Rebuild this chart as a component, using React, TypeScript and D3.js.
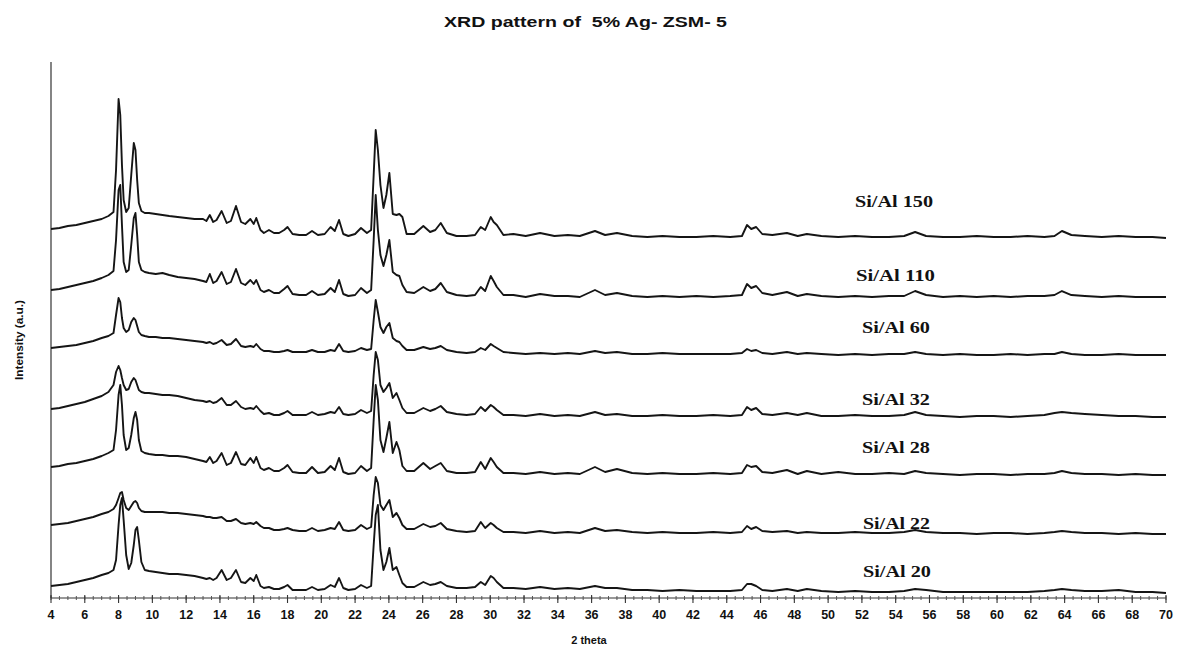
import React from "react";
import * as d3 from "d3";

// 2θ sampling positions (degrees)
const twoTheta = [
  4, 4.5, 5, 5.5, 6, 6.5, 7, 7.4, 7.7, 7.85,
  8.0, 8.1, 8.2, 8.3, 8.45, 8.6, 8.75, 8.9, 9.0, 9.1,
  9.2, 9.35, 9.55, 9.8, 10.2, 10.6, 11, 11.5, 12, 12.5,
  13, 13.2, 13.4, 13.6, 13.8, 14.1, 14.4, 14.65, 14.95, 15.25,
  15.5, 15.8, 16.0, 16.15, 16.4, 16.6, 16.9, 17.2, 17.5, 17.8,
  18.0, 18.3, 18.7, 19.1, 19.45, 19.8, 20.2, 20.55, 20.8, 21.05,
  21.3, 21.6, 22.0, 22.35, 22.7, 22.95, 23.1, 23.22, 23.35, 23.5,
  23.68, 23.85, 24.03, 24.23, 24.45, 24.62, 24.8, 25.05, 25.5, 26.04,
  26.44, 26.75, 27.07, 27.43, 28, 28.6, 29.1, 29.44, 29.7, 30.03,
  30.2, 30.39, 30.78, 31.37, 32.1, 32.95, 33.8, 34.6, 35.3, 36.2,
  36.8, 37.5, 38.4, 39.3, 40.2, 41.2, 42.2, 43.2, 44.2, 44.9,
  45.2, 45.45, 45.74, 46.1, 46.7, 47.56, 48.2, 48.74, 49.6, 50.6,
  51.6, 52.6, 53.6, 54.5, 55.15, 55.8, 56.8, 57.8, 58.8, 59.8,
  60.8, 61.8, 62.8, 63.4, 63.84, 64.4, 65.2, 66.2, 67.2, 68.2,
  69.2, 70,
];

// Intensity (a.u., stacked) for each sample
const siAl150 = [
  369, 370, 372, 373, 375, 377, 379, 382, 386, 428,
  499, 483, 433, 398, 386, 390, 423, 455, 448, 418,
  395, 387, 385, 385, 384, 383, 382, 381, 380, 379,
  379, 377, 383, 376, 378, 387, 375, 377, 392, 376,
  374, 379, 374, 380, 368, 365, 368, 365, 365, 368,
  371, 364, 363, 363, 367, 363, 364, 371, 367, 378,
  364, 362, 364, 370, 365, 368, 423, 468, 448, 413,
  390, 403, 425, 384, 383, 384, 381, 364, 364, 372,
  366, 368, 375, 365, 362, 362, 363, 371, 368, 381,
  376, 373, 363, 364, 362, 365, 362, 363, 362, 367,
  363, 365, 362, 361, 362, 361, 361, 362, 361, 362,
  373, 369, 371, 364, 363, 365, 362, 364, 362, 361,
  362, 361, 361, 362, 366, 362, 361, 361, 362, 361,
  361, 362, 361, 362, 367, 363, 362, 361, 362, 361,
  361, 360,
];
const siAl110 = [
  308, 309, 311, 313, 315, 317, 320, 323, 327, 358,
  408, 413, 373, 336, 326, 328, 353, 380, 385, 363,
  336, 328, 326, 325, 324, 325, 323, 321, 320, 319,
  317, 316, 324, 315, 317, 326, 314, 316, 329, 315,
  313, 318, 314, 318, 308, 306, 308, 305, 305, 309,
  312, 304, 303, 303, 307, 303, 304, 310, 306, 318,
  304, 302, 303, 310, 305, 308, 358, 403, 368, 343,
  332, 343, 358, 326, 323, 322, 313, 306, 305, 311,
  307, 309, 315, 306, 303, 302, 303, 311, 307, 322,
  317, 311, 303, 303, 301, 304, 302, 302, 301, 308,
  303, 305, 302, 301, 302, 301, 302, 301, 302, 303,
  314, 310, 312, 305, 303, 306, 302, 304, 302, 301,
  302, 301, 302, 302, 307, 303, 301, 302, 301, 302,
  301, 302, 302, 303, 307, 303, 302, 301, 302, 301,
  301, 301,
];
const siAl60 = [
  250, 251, 252, 253, 255, 257, 260, 262, 265, 283,
  300, 296, 280, 270, 266, 268, 276, 280, 278, 272,
  266, 263, 262, 261, 261, 260, 260, 259, 258, 257,
  256, 255, 256, 254, 255, 258, 253, 254, 259, 252,
  251, 252, 251, 254, 249, 247, 247, 246, 246, 247,
  248, 246, 246, 246, 248, 246, 246, 248, 247, 254,
  247, 246, 247, 250, 248, 249, 278, 298, 286, 271,
  265, 271, 275, 260, 257, 256, 252, 248, 248, 251,
  249, 250, 252, 248, 246, 245, 246, 250, 248, 254,
  252, 250, 246, 245, 244, 245, 244, 245, 244, 247,
  245, 246, 244, 244, 245, 244, 244, 244, 244, 245,
  249, 247, 248, 245, 244, 246, 244, 245, 244, 243,
  244, 243, 244, 244, 246, 244, 243, 244, 243, 243,
  244, 243, 244, 244, 246, 244, 243, 243, 244, 243,
  243, 243,
];
const siAl32 = [
  189, 190, 192, 194, 196, 199, 202, 206, 213, 226,
  232, 228, 220, 213, 208, 209, 216, 220, 218, 213,
  208, 206, 205, 205, 204, 203, 203, 202, 200, 198,
  197, 196, 197, 195, 196, 200, 193, 193, 197, 191,
  189, 190, 189, 192, 187, 184, 185, 183, 183, 185,
  187, 183, 183, 183, 186, 183, 184, 186, 185, 191,
  184, 183, 184, 188, 185, 187, 223, 246, 238, 213,
  206, 210, 215, 200, 205, 198, 190, 185, 185, 190,
  187, 189, 192, 186, 184, 183, 184, 191, 187, 193,
  191, 188, 183, 183, 182, 184, 182, 183, 182, 186,
  183, 184, 182, 182, 183, 182, 182, 183, 182, 183,
  191, 188, 190, 184, 183, 185, 183, 185, 182, 182,
  183, 182, 182, 183, 186, 183, 182, 181, 182, 182,
  181, 182, 183, 185, 186, 185, 184, 183, 182, 182,
  181, 181,
];
const siAl28 = [
  131, 132, 134, 135, 137, 139, 142, 145, 148, 168,
  203, 213, 193, 163, 148, 150, 163, 180, 186, 178,
  158, 147, 145, 144, 143, 143, 142, 142, 141, 139,
  137, 136, 141, 135, 137, 145, 133, 135, 146, 134,
  133, 140, 135, 141, 130, 128, 130, 127, 127, 130,
  133, 126, 125, 125, 131, 125, 126, 132, 128, 140,
  126, 124, 125, 132, 127, 130, 178, 213, 198, 158,
  146, 160, 176, 145, 156, 148, 132, 127, 127, 135,
  129, 132, 135, 127, 125, 125, 126, 136, 129, 140,
  136, 131, 125, 125, 124, 126, 124, 125, 124, 131,
  126, 129, 125, 124, 125, 124, 124, 125, 124, 125,
  133, 131, 132, 126, 125, 128, 124, 127, 124, 126,
  124, 124, 125, 124, 127, 125, 124, 123, 124, 124,
  123, 124, 124, 125, 127, 125, 124, 124, 123, 124,
  123, 123,
];
const siAl22 = [
  73, 74, 75, 77, 79, 81, 84, 86, 89, 93,
  100, 105, 106, 98, 90, 88, 92, 96, 97, 95,
  90, 87, 86, 86, 86, 86, 85, 85, 84, 83,
  82, 81, 81, 80, 80, 81, 77, 77, 79, 75,
  74, 75, 74, 76, 72, 70, 70, 68, 68, 69,
  70, 68, 67, 67, 70, 67, 68, 70, 69, 76,
  68, 67, 68, 73, 69, 71, 103, 121, 115, 93,
  88, 93, 98, 81, 85, 80, 73, 69, 69, 74,
  71, 72, 75, 69, 67, 66, 67, 76, 70, 75,
  73, 70, 66, 66, 65, 67, 65, 66, 65, 70,
  67, 68, 66, 65, 66, 65, 65, 66, 65, 66,
  72, 69, 71, 67, 66, 67, 65, 66, 65, 65,
  66, 65, 65, 66, 68, 66, 65, 65, 64, 65,
  65, 64, 65, 66, 67, 66, 65, 65, 64, 65,
  64, 64,
];
const siAl20 = [
  12, 13, 14, 16, 18, 20, 23, 25, 28, 38,
  73, 93, 100, 78, 43, 29, 35, 53, 68, 71,
  58, 36, 28, 27, 26, 25, 24, 24, 23, 22,
  20, 19, 20, 18, 20, 28, 18, 20, 28, 16,
  15, 20, 17, 23, 12, 10, 11, 9, 9, 11,
  13, 8, 8, 8, 11, 8, 9, 13, 11, 20,
  10, 8, 9, 13, 10, 12, 53, 83, 93, 48,
  28, 36, 50, 28, 31, 23, 15, 11, 11, 16,
  13, 14, 16, 12, 10, 10, 11, 16, 13, 22,
  20, 16, 10, 10, 9, 11, 9, 10, 9, 12,
  10, 10, 8, 8, 7, 8, 7, 7, 7, 8,
  14, 14, 12, 8, 7, 9, 7, 9, 7, 6,
  7, 6, 6, 7, 9, 8, 6, 6, 6, 6,
  6, 6, 7, 8, 9, 8, 7, 7, 8, 6,
  6, 5,
];

const seriesNames = ["Si/Al 150", "Si/Al 110", "Si/Al 60", "Si/Al 32", "Si/Al 28", "Si/Al 22", "Si/Al 20"];
const seriesValues = [siAl150, siAl110, siAl60, siAl32, siAl28, siAl22, siAl20];
const xTickLabels = [4, 6, 8, 10, 12, 14, 16, 18, 20, 22, 24, 26, 28, 30, 32, 34, 36, 38, 40, 42, 44, 46, 48, 50, 52, 54, 56, 58, 60, 62, 64, 66, 68, 70];

// label layout (pixels)
const labelLayout = [
  { x: 855, y: 207, w: 78 },
  { x: 856, y: 281, w: 79 },
  { x: 862, y: 333, w: 68 },
  { x: 862, y: 405, w: 68 },
  { x: 862, y: 453, w: 68 },
  { x: 863, y: 529, w: 67 },
  { x: 863, y: 577, w: 68 },
];

export default function App() {
  const W = 1178;
  const H = 650;
  const x = d3.scaleLinear().domain([4, 70]).range([51, 1166]);
  const y = d3.scaleLinear().domain([0, 540]).range([598, 58]);
  const line = d3
    .line<number>()
    .x((_, i) => x(twoTheta[i]))
    .y((d) => y(d))
    .curve(d3.curveLinear);

  const minorTicks = d3.range(4, 70.01, 0.5);
  const sans = "'Liberation Sans', Arial, sans-serif";
  const serif = "'Liberation Serif', 'Times New Roman', serif";

  return (
    <svg
      width={W}
      height={H}
      style={{ position: "absolute", left: 0, top: 0, background: "#fff" }}
    >
      <rect x={0} y={0} width={W} height={H} fill="#fff" />
      <text
        x={585.5}
        y={27}
        textAnchor="middle"
        fontFamily={sans}
        fontWeight="bold"
        fontSize={14}
        textLength={283}
        lengthAdjust="spacingAndGlyphs"
        fill="#111"
        style={{ whiteSpace: "pre" }}
      >
        {"XRD pattern of  5% Ag- ZSM- 5"}
      </text>

      {/* axes */}
      <line x1={x(4)} x2={x(4)} y1={62} y2={y(0)} stroke="#333" strokeWidth={1.2} />
      <line x1={x(4)} x2={x(70)} y1={y(0)} y2={y(0)} stroke="#333" strokeWidth={1.2} />
      {minorTicks.map((t) => (
        <line key={"m" + t} x1={x(t)} x2={x(t)} y1={y(0) - 2} y2={y(0) + 2} stroke="#555" strokeWidth={1} />
      ))}
      {xTickLabels.map((t) => (
        <g key={"t" + t}>
          <line x1={x(t)} x2={x(t)} y1={y(0) - 3} y2={y(0) + 5} stroke="#333" strokeWidth={1.1} />
          <text
            x={x(t)}
            y={619}
            textAnchor="middle"
            fontFamily={sans}
            fontWeight="bold"
            fontSize={12.5}
            fill="#111"
          >
            {t}
          </text>
        </g>
      ))}
      <text
        x={589}
        y={644}
        textAnchor="middle"
        fontFamily={sans}
        fontWeight="bold"
        fontSize={11}
        fill="#111"
      >
        2 theta
      </text>
      <text
        transform="translate(23,340) rotate(-90)"
        textAnchor="middle"
        fontFamily={sans}
        fontWeight="bold"
        fontSize={10.5}
        textLength={80}
        lengthAdjust="spacingAndGlyphs"
        fill="#111"
      >
        Intensity (a.u.)
      </text>

      {/* patterns */}
      {seriesValues.map((vals, i) => (
        <path
          key={seriesNames[i]}
          d={line(vals.slice(0, twoTheta.length)) || ""}
          fill="none"
          stroke="#151515"
          strokeWidth={1.9}
          strokeLinejoin="round"
        />
      ))}

      {seriesNames.map((name, i) => (
        <text
          key={"l" + name}
          x={labelLayout[i].x}
          y={labelLayout[i].y}
          fontFamily={serif}
          fontWeight="bold"
          fontSize={17.5}
          textLength={labelLayout[i].w}
          lengthAdjust="spacingAndGlyphs"
          fill="#111"
        >
          {name}
        </text>
      ))}
    </svg>
  );
}
